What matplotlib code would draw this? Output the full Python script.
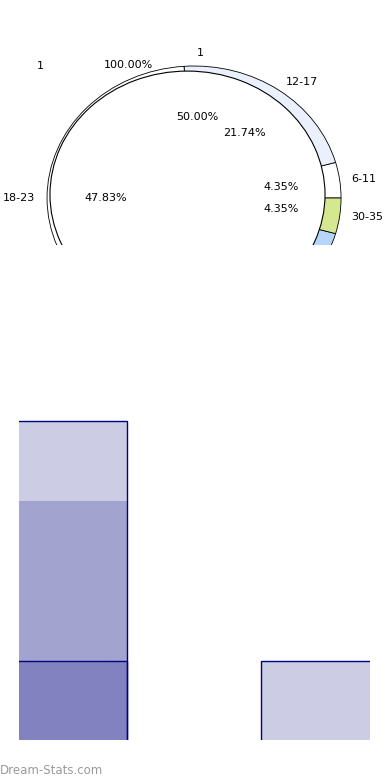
import matplotlib
matplotlib.use('Agg')
import matplotlib.pyplot as plt

# ---- data ----
age_groups = ['6-11', '12-17', '18-23', '24-29', '30-35']
age_counts = [1, 5, 11, 5, 1]
age_colors = ['#ffffff', '#eaf1fd', '#ffffff', '#b5d5fb', '#d5e88f']

inner_labels = ['1', '1']
inner_values = [1, 1]

total_labels = ['1']
total_values = [1]

bar_positions = [0, 1]
bar_series_1 = [4, 1]
bar_series_2 = [3, 0]
bar_series_3 = [1, 0]

fig = plt.figure(figsize=(3.9, 7.8), dpi=100)

# ---- top: pie (clipped) ----
axp = fig.add_axes([0, (780 - 245) / 780, 1, 245 / 780])
wa, ta, pa = axp.pie(age_counts, labels=age_groups, colors=age_colors,
                     autopct='%.2f%%', startangle=0, labeldistance=1.08,
                     pctdistance=0.6,
                     wedgeprops=dict(edgecolor='black', linewidth=0.6, clip_on=True),
                     textprops=dict(fontsize=8))
wb, tb, pb = axp.pie(inner_values, labels=inner_labels, colors=['white', 'white'],
                     autopct='%.2f%%', startangle=0, radius=0.5,
                     center=(0.02, 0),
                     labeldistance=2.2, pctdistance=1.23,
                     wedgeprops=dict(linewidth=0, clip_on=True),
                     textprops=dict(fontsize=8))
wc, pc = axp.pie(total_values, colors=['white'], autopct='%.2f%%',
                 startangle=-67.6, radius=0.9355, center=(-0.0445, 0.026),
                 labeldistance=None, pctdistance=1.135,
                 wedgeprops=dict(edgecolor='black', linewidth=0.8, clip_on=True),
                 textprops=dict(fontsize=8))[:2]
axp.text(-1.02, 1.0, total_labels[0], ha='right', va='center', fontsize=8)

axp.set_aspect('auto')
ylo = -0.356
axp.set_xlim(-1.320, 1.333)
axp.set_ylim(ylo, 1.5)
axp.axis('off')
for t in list(ta) + list(pa) + list(tb) + list(pb):
    if t.get_position()[1] < ylo:
        t.set_visible(False)

# ---- bottom: overlapping bars ----
axb = fig.add_axes([19 / 390, 40 / 780, 351 / 390, 340 / 780])
face = (0, 0, 0.5, 0.2)
axb.bar(bar_positions, bar_series_1, width=0.5, color=face, edgecolor='navy', linewidth=1)
axb.bar(bar_positions, bar_series_2, width=0.5, color=face, linewidth=0)
axb.bar(bar_positions, bar_series_3, width=0.5, color=face, edgecolor='navy', linewidth=1)
axb.set_xlim(-0.153, 1.157)
axb.set_ylim(0.012, 4.262)
axb.axis('off')

fig.text(0.0, 1 - 770 / 780, 'Dream-Stats.com', color='#9a9a9a', fontsize=8.5,
         ha='left', va='center')

fig.savefig('out.png', dpi=100)
